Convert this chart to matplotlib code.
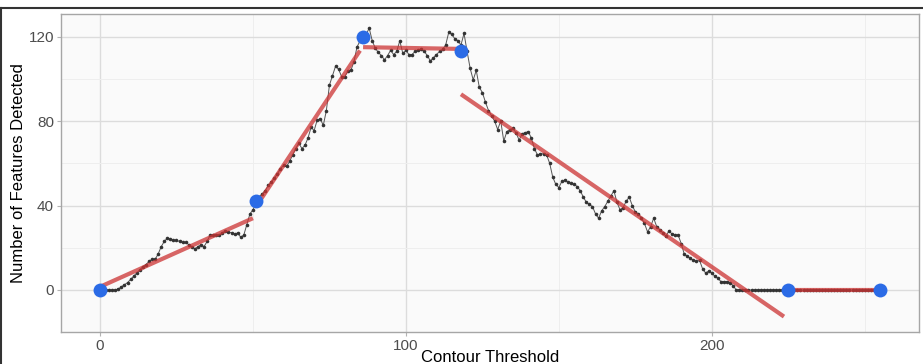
import matplotlib
matplotlib.use("Agg")
import matplotlib.pyplot as plt
from matplotlib.lines import Line2D

plt.rcParams["font.family"] = ["Liberation Sans", "DejaVu Sans"]

# features detected at each contour threshold
threshold = list(range(0, 256))
features = [
    0, 0, 0, 0, 0, 0, 0.5, 1.5, 2.5, 3.5,
    5, 6.5, 8, 9.5, 11, 12, 13.5, 14.5, 14.5, 17,
    20.5, 23, 24.5, 24, 23.5, 23.5, 23, 22.5, 22.5, 21.5,
    20.5, 19.5, 20.5, 21.5, 20.5, 23, 26, 26, 26, 26,
    27, 28, 27.5, 27, 26.5, 27, 25, 26, 31, 36,
    38, 41, 44, 45.5, 47, 49.5, 51, 53, 55, 57.5,
    59, 58.5, 61, 64, 67, 69.5, 67, 68.5, 72, 77,
    75.5, 80.5, 81, 78, 85, 97, 101.5, 106, 104.5, 101,
    101, 103.5, 104, 108, 115, 118, 119, 121, 124, 118,
    114.5, 112.5, 111, 109, 111, 113.5, 111.5, 113, 118, 112,
    113.5, 111.5, 111.5, 113, 113.5, 114, 113, 111, 108.5, 110,
    111.5, 113, 114, 116, 122, 121, 119, 118, 116, 121.5,
    113, 105, 99.5, 104, 96, 93.5, 89, 85, 82.5, 80,
    76, 80, 70.5, 75, 76, 76.5, 74.5, 71, 74, 74.5,
    75, 72, 67, 64, 64.5, 64.5, 64, 60, 53.5, 50,
    48.5, 51.5, 52, 51, 50.5, 50, 49, 47, 44, 41.5,
    40.5, 39.5, 36, 34, 37.5, 39.5, 42, 44.5, 47, 41.5,
    38, 39, 42, 44, 40, 37, 36, 34, 31.5, 27.5,
    30, 34, 30, 28.5, 27, 25.5, 28, 26.5, 26, 26,
    22, 17, 16, 15, 14, 13.5, 14, 10, 8, 9,
    8, 6.5, 5.5, 4, 4, 4, 3.5, 2, 0, 0,
] + [0] * 46

# fitted segments
seg_x0 = [0, 51, 86, 118, 225]
seg_x1 = [50, 85, 117, 223.6, 255]
seg_y0 = [1.5, 39.5, 115, 92.7, 0]
seg_y1 = [34, 113.4, 114.2, -12.6, 0]

# breakpoints
bp_x = [0, 51, 86, 118, 225, 255]
bp_y = [0, 42, 120, 113, 0, 0]

fig = plt.figure(figsize=(9.23, 3.64), dpi=100)
ax = fig.add_axes([0.0661, 0.0879, 0.9296, 0.8736])
ax.set_facecolor("#FAFAFA")

ax.plot(threshold, features, color="#555555", lw=0.7, zorder=3)
ax.plot(threshold, features, "o", color="#333333", ms=2.6, mew=0, zorder=3)

for x0, x1, y0, y1 in zip(seg_x0, seg_x1, seg_y0, seg_y1):
    ax.plot([x0, x1], [y0, y1], color="#CC3333", lw=3, alpha=0.75,
            solid_capstyle="butt", zorder=4)

ax.plot(bp_x, bp_y, "o", color="#2B6BE6", ms=10, mew=0, zorder=5)

ax.set_xlim(-12.75, 267.75)
ax.set_ylim(-19.9, 130.7)
ax.set_xticks([0, 100, 200])
ax.set_yticks([0, 40, 80, 120])
ax.set_xticks([50, 150, 250], minor=True)
ax.set_yticks([20, 60, 100], minor=True)
ax.grid(which="major", color="#DCDCDC", lw=1.0)
ax.grid(which="minor", color="#EEEEEE", lw=0.7)
ax.set_axisbelow(True)
ax.tick_params(which="major", length=3, color="#B3B3B3", labelsize=11,
               labelcolor="#4D4D4D", pad=2)
ax.tick_params(which="minor", length=0)
for s in ax.spines.values():
    s.set_color("#A6A6A6")
    s.set_linewidth(1.0)

ax.set_xlabel("Contour Threshold", fontsize=12, labelpad=-2)
ax.set_ylabel("Number of Features Detected", fontsize=12, labelpad=2)

# outer frame of the screenshot
fig.add_artist(Line2D([0, 1], [1 - 8 / 364, 1 - 8 / 364], color="#333333", lw=1.5))
fig.add_artist(Line2D([1 / 923, 1 / 923], [0, 1 - 8 / 364], color="#333333", lw=1.5))

fig.savefig("out.png", dpi=100)
